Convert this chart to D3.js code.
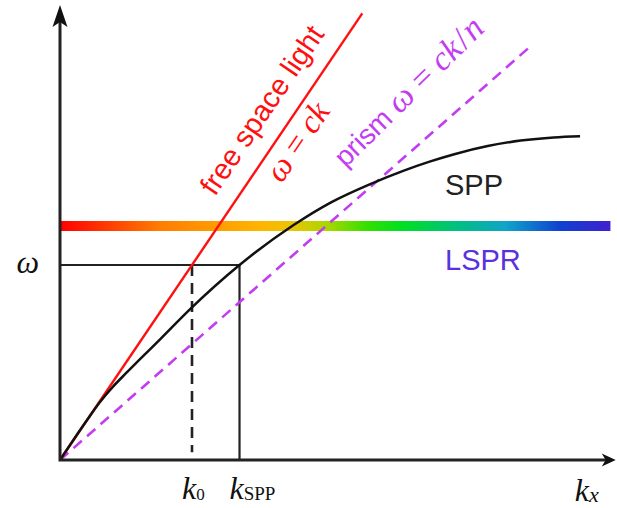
<!DOCTYPE html>
<html>
<head>
<meta charset="utf-8">
<script src="https://cdn.jsdelivr.net/npm/d3@7"></script>
<style>
  html, body { margin: 0; padding: 0; background: #fff; }
  svg { display: block; }
</style>
</head>
<body>
<svg id="chart" width="617" height="508"></svg>
<script>
// Dispersion relation of surface plasmon polaritons (arbitrary units, k0 = 1, omega = 1)
const kMax = 4.21;          // end of the kx axis
const wMax = 2.333;         // end of the omega axis

const k0 = 1.0;             // light wavevector at omega
const kSpp = 1.36;          // SPP wavevector at omega
const omega = 1.0;          // chosen frequency
const omegaLspr = 1.2;      // localized surface plasmon resonance band
const lsprK = [0, 4.17];    // extent of the LSPR band

const lightK = [0, 2.29];   // free-space light line, omega = c k (c = 1)
const prismN = 1.68;        // refractive index of the prism
const prismK = [0, 3.56];   // prism light line, omega = c k / n

// SPP branch
const sppK = [0, 0.20, 0.30, 0.40, 0.50, 0.61, 0.76, 0.98, 1.36, 1.77, 2.05, 2.35, 2.60, 2.80, 2.98, 3.24, 3.49, 3.74, 3.94];
const sppW = [0, 0.20, 0.295, 0.375, 0.445, 0.52, 0.62, 0.77, 1.00, 1.205, 1.32, 1.415, 1.483, 1.53, 1.567, 1.61, 1.638, 1.654, 1.66];

// Axis tick labels: main symbol and subscript
const xTickValues = [k0, kSpp];
const xTickMain = ["k", "k"];
const xTickSub = ["0", "SPP"];

// Spectrum colours for the LSPR band
const spectrum = [
  [0.00, "#ff0000"], [0.18, "#ff7c00"], [0.36, "#ffb400"], [0.42, "#ecc400"],
  [0.49, "#a4d800"], [0.56, "#30e000"], [0.62, "#00e020"], [0.72, "#00c080"],
  [0.81, "#10a4c8"], [0.91, "#1040d0"], [1.00, "#4020d0"]
];

const svg = d3.select("#chart");
const x = d3.scaleLinear().domain([0, kMax]).range([60, 60 + kMax * 132]);
const y = d3.scaleLinear().domain([0, wMax]).range([460, 460 - wMax * 195]);

const sans = "'Liberation Sans', Arial, sans-serif";
const serif = "'Liberation Serif', 'Times New Roman', serif";

// gradient for the spectrum band
const grad = svg.append("defs").append("linearGradient")
  .attr("id", "spectrum").attr("x1", "0%").attr("x2", "100%").attr("y1", "0%").attr("y2", "0%");
grad.selectAll("stop").data(spectrum).join("stop")
  .attr("offset", d => d[0]).attr("stop-color", d => d[1]);

// LSPR band
svg.append("rect")
  .attr("x", x(lsprK[0])).attr("width", x(lsprK[1]) - x(lsprK[0]))
  .attr("y", y(omegaLspr) - 5).attr("height", 10)
  .attr("fill", "url(#spectrum)");

const line = d3.line().x(d => x(d[0])).y(d => y(d[1]));
const smooth = d3.line().x(d => x(d[0])).y(d => y(d[1])).curve(d3.curveMonotoneX);

// guide lines at omega
svg.append("path").attr("d", line([[0, omega], [kSpp, omega], [kSpp, 0]]))
  .attr("fill", "none").attr("stroke", "#222").attr("stroke-width", 2.2);
svg.append("path").attr("d", line([[k0, omega], [k0, 0.04]]))
  .attr("fill", "none").attr("stroke", "#222").attr("stroke-width", 2.6)
  .attr("stroke-dasharray", "11,7");

// prism light line
svg.append("path").attr("d", line(prismK.map(k => [k, k / prismN])))
  .attr("fill", "none").attr("stroke", "#c43cf2").attr("stroke-width", 2.6)
  .attr("stroke-dasharray", "11,7");

// free-space light line
svg.append("path").attr("d", line(lightK.map(k => [k, k])))
  .attr("fill", "none").attr("stroke", "#ff1010").attr("stroke-width", 2.4);

// SPP curve
svg.append("path").attr("d", smooth(sppK.map((k, i) => [k, sppW[i]])))
  .attr("fill", "none").attr("stroke", "#111").attr("stroke-width", 2.5);

// axes with arrow heads
svg.append("path").attr("d", line([[0, wMax - 0.03], [0, 0], [kMax - 0.03, 0]]))
  .attr("fill", "none").attr("stroke", "#222").attr("stroke-width", 3);
const tipY = [x(0), y(wMax)];
svg.append("path")
  .attr("d", `M${tipY[0]},${tipY[1]} L${tipY[0] - 7.5},${tipY[1] + 22} L${tipY[0]},${tipY[1] + 17} L${tipY[0] + 7.5},${tipY[1] + 22} Z`)
  .attr("fill", "#111");
const tipX = [x(kMax), y(0)];
svg.append("path")
  .attr("d", `M${tipX[0]},${tipX[1]} L${tipX[0] - 14},${tipX[1] - 6.5} L${tipX[0] - 10},${tipX[1]} L${tipX[0] - 14},${tipX[1] + 6.5} Z`)
  .attr("fill", "#111");

// x tick labels
xTickValues.forEach((v, i) => {
  const t = svg.append("text")
    .attr("x", x(v) - 10).attr("y", y(0) + 39)
    .attr("font-family", serif).attr("fill", "#111");
  t.append("tspan").attr("font-style", "italic").attr("font-size", 32).text(xTickMain[i]);
  t.append("tspan").attr("font-size", i === 0 ? 17 : 19).attr("dy", 1).text(xTickSub[i]);
});
const kx = svg.append("text")
  .attr("x", x(kMax) - 41).attr("y", y(0) + 41)
  .attr("font-family", serif).attr("font-style", "italic").attr("fill", "#111");
kx.append("tspan").attr("font-size", 32).text("k");
kx.append("tspan").attr("font-size", 22).attr("dy", 1).text("x");

// omega label on the vertical axis
svg.append("text")
  .attr("x", x(0) - 21).attr("y", y(omega) + 8)
  .attr("text-anchor", "end").attr("font-family", serif).attr("font-style", "italic")
  .attr("font-size", 32).attr("fill", "#111").text("ω");

// labels along the light lines
const lightAngle = Math.atan2(y(1) - y(0), x(1) - x(0)) * 180 / Math.PI;
const prismAngle = Math.atan2(y(1 / prismN) - y(0), x(1) - x(0)) * 180 / Math.PI;

svg.append("text")
  .attr("transform", `translate(${x(1.294)},${y(1.294)}) rotate(${lightAngle})`)
  .attr("dy", -19).attr("text-anchor", "start")
  .attr("font-family", sans).attr("font-size", 29).attr("fill", "#ff1010")
  .text("free space light");

const eqLight = svg.append("text")
  .attr("transform", `translate(${x(1.685)},${y(1.685)}) rotate(${lightAngle})`)
  .attr("dy", 29).attr("text-anchor", "middle")
  .attr("font-family", serif).attr("font-size", 33).attr("fill", "#ff1010");
eqLight.append("tspan").attr("font-style", "italic").text("ω");
eqLight.append("tspan").text(" = ");
eqLight.append("tspan").attr("font-style", "italic").text("ck");

// the prism label leans a little more steeply than its line
const prismLabel = svg.append("text")
  .attr("transform", `translate(${x(2.325)},${y(2.325 / prismN)}) rotate(${prismAngle - 3.2})`)
  .attr("dy", -30.6).attr("text-anchor", "start").attr("fill", "#c43cf2");
prismLabel.append("tspan").attr("font-family", sans).attr("font-size", 28).text("prism ");
prismLabel.append("tspan").attr("font-family", serif).attr("font-size", 34).attr("font-style", "italic").text("ω");
prismLabel.append("tspan").attr("font-family", serif).attr("font-size", 34).text(" = ");
prismLabel.append("tspan").attr("font-family", serif).attr("font-size", 34).attr("font-style", "italic").text("ck");
prismLabel.append("tspan").attr("font-family", serif).attr("font-size", 34).attr("dx", 2).text("/");
prismLabel.append("tspan").attr("font-family", serif).attr("font-size", 34).attr("dx", 2).attr("font-style", "italic").text("n");

// branch labels
svg.append("text")
  .attr("x", x(2.917)).attr("y", y(1.359))
  .attr("font-family", sans).attr("font-size", 29).attr("fill", "#222").text("SPP");
svg.append("text")
  .attr("x", x(2.917)).attr("y", y(0.974))
  .attr("font-family", sans).attr("font-size", 29).attr("fill", "#5a30e0").text("LSPR");
</script>
</body>
</html>
